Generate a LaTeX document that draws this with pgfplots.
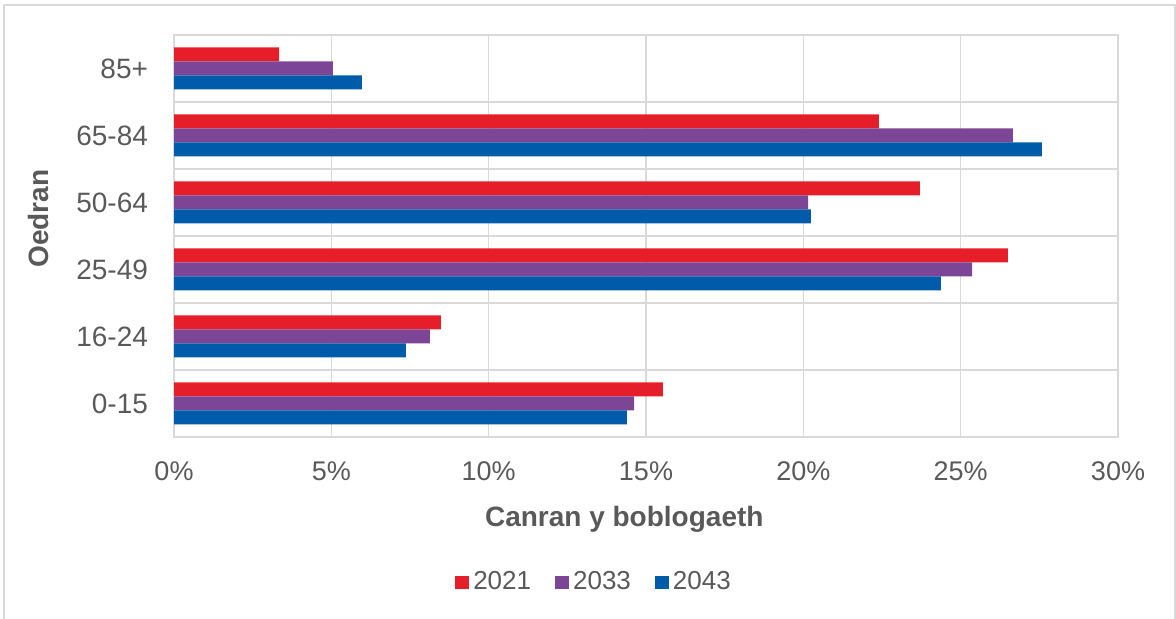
\documentclass[border=0pt]{standalone}
\usepackage{pgfplots}
\pgfplotsset{compat=1.18}
\usepackage{fontspec}
\setmainfont{Liberation Sans}

\definecolor{txt}{HTML}{595959}
\definecolor{gridc}{HTML}{D9D9D9}
\definecolor{c2021}{HTML}{E61E2A}
\definecolor{c2033}{HTML}{7D4596}
\definecolor{c2043}{HTML}{005BAA}

\begin{document}
\begin{tikzpicture}
\useasboundingbox (0,0) rectangle (588pt,309.5pt);
% chart frame (open at the bottom)
\draw[gridc, line width=1pt] (2pt,0) -- (2pt,307pt) -- (587.5pt,307pt) -- (587.5pt,0);

\begin{axis}[
    at={(87pt,91pt)}, anchor=south west,
    scale only axis,
    width=472pt, height=201pt,
    xbar,
    bar width=7pt,
    xmin=0, xmax=30,
    ymin=-0.5, ymax=5.5,
    xtick={0,5,...,30},
    xticklabel={\pgfmathprintnumber{\tick}\%},
    /pgf/number format/assume math mode=true,
    ytick={0,1,2,3,4,5},
    yticklabels={0-15,16-24,25-49,50-64,65-84,85+},
    minor ytick={-0.5,0.5,1.5,2.5,3.5,4.5,5.5},
    xmajorgrids=true,
    yminorgrids=true,
    major tick length=0pt,
    minor tick length=0pt,
    grid style={gridc, line width=0.75pt},
    minor grid style={gridc, line width=0.75pt},
    axis line style={gridc, line width=0.75pt},
    xticklabel style={font=\fontsize{13.5}{15}\selectfont, text=txt, yshift=-9pt},
    yticklabel style={font=\fontsize{14}{16}\selectfont, text=txt, xshift=-9.5pt},
    xlabel={Canran y boblogaeth},
    ylabel={Oedran},
    xlabel style={font=\fontsize{14}{16}\selectfont\bfseries, text=txt,
        at={(rel axis cs:0.477,-0.206)}, anchor=center},
    ylabel style={font=\fontsize{14}{16}\selectfont\bfseries, text=txt,
        at={(rel axis cs:-0.144,0.5435)}, anchor=center, rotate=0},
    legend columns=3,
    legend style={draw=none, at={(0.446,-0.361)}, anchor=center,
        font=\fontsize{13}{15}\selectfont, text=txt,
        /tikz/every even column/.append style={column sep=10pt}},
    legend image code/.code={\fill[#1] (0pt,-3.3pt) rectangle (7pt,3.3pt);},
]

\addplot[fill=c2021, draw=none, bar shift=7pt]
  coordinates {(15.54,0) (8.48,1) (26.5,2) (23.7,3) (22.4,4) (3.34,5)};
\addlegendentry{2021}

\addplot[fill=c2033, draw=none, bar shift=0pt]
  coordinates {(14.62,0) (8.13,1) (25.36,2) (20.15,3) (26.66,4) (5.05,5)};
\addlegendentry{2033}

\addplot[fill=c2043, draw=none, bar shift=-7pt]
  coordinates {(14.39,0) (7.37,1) (24.37,2) (20.24,3) (27.58,4) (5.97,5)};
\addlegendentry{2043}

\end{axis}
\end{tikzpicture}
\end{document}
